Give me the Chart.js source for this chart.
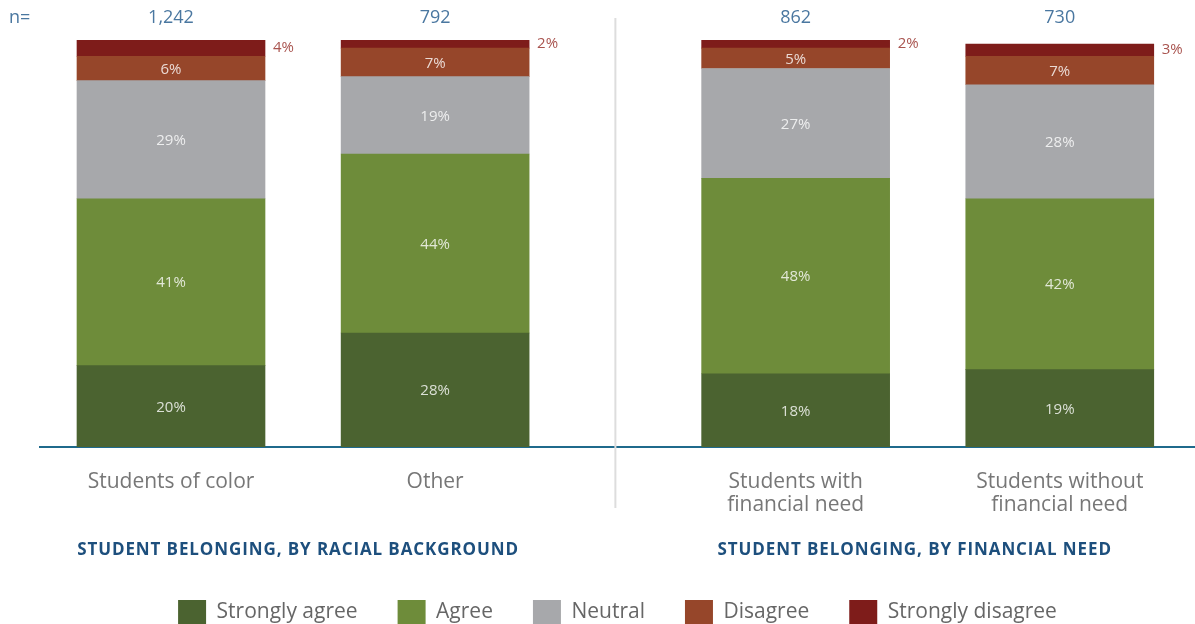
<!DOCTYPE html>
<html>
<head>
<meta charset="utf-8">
<script src="https://cdn.jsdelivr.net/npm/chart.js@4/dist/chart.umd.min.js"></script>
<style>
  html, body { margin: 0; padding: 0; background: #ffffff; }
  #wrap { width: 1195px; height: 624px; position: relative; }
</style>
</head>
<body>
<div id="wrap"><canvas id="c" width="1195" height="624"></canvas></div>
<script>
// Survey responses: "I feel I belong here", by student group (percent)
const categories = [
  ['Students of color'],
  ['Other'],
  ['Students with', 'financial need'],
  ['Students without', 'financial need']
];
const sampleSizes = ['1,242', '792', '862', '730'];
const groupTitles = ['STUDENT BELONGING, BY RACIAL BACKGROUND', 'STUDENT BELONGING, BY FINANCIAL NEED'];

const stronglyAgree    = [20, 28, 18, 19];
const agree            = [41, 44, 48, 42];
const neutral          = [29, 19, 27, 28];
const disagree         = [6, 7, 5, 7];
const stronglyDisagree = [4, 2, 2, 3];

const seriesNames  = ['Strongly agree', 'Agree', 'Neutral', 'Disagree', 'Strongly disagree'];
const seriesColors = ['#4b6330', '#6e8c3a', '#a7a8ab', '#96462a', '#7e1c1a'];
const seriesValues = [stronglyAgree, agree, neutral, disagree, stronglyDisagree];

// The two comparisons sit on one axis, with extra room between the groups
const GROUP_GAP = 0.365;
const xPos = categories.map((_, i) => i + (i >= 2 ? GROUP_GAP : 0));

const FONT = '"Open Sans", "Noto Sans", sans-serif';

const datasets = seriesNames.map((name, s) => ({
  label: name,
  data: seriesValues[s].map((v, i) => ({ x: xPos[i], y: v })),
  backgroundColor: seriesColors[s],
  borderWidth: 0,
  barThickness: 188,
  stack: 'one'
}));

// nudge the legend row down toward the bottom edge
const legendShift = {
  id: 'legendShift',
  afterLayout(chart) {
    if (chart.legend) {
      chart.legend.top += 10;
      chart.legend.bottom += 10;
    }
  }
};

const annotations = {
  id: 'annotations',
  afterDatasetsDraw(chart) {
    const { ctx, scales: { x } } = chart;
    ctx.save();

    // percentage labels on each segment
    ctx.textBaseline = 'middle';
    chart.data.datasets.forEach((ds, s) => {
      const meta = chart.getDatasetMeta(s);
      meta.data.forEach((bar, i) => {
        const v = ds.data[i].y;
        const cy = (bar.y + bar.base) / 2;
        ctx.font = '15px ' + FONT;
        if (s === seriesNames.length - 1) {
          ctx.fillStyle = '#a9544f';
          ctx.textAlign = 'left';
          ctx.fillText(v + '%', bar.x + bar.width / 2 + 8, cy);
        } else {
          ctx.fillStyle = 'rgba(255,255,255,0.8)';
          ctx.textAlign = 'center';
          ctx.fillText(v + '%', bar.x, cy + 1);
        }
      });
    });

    // sample sizes above the bars
    ctx.font = '18px ' + FONT;
    ctx.fillStyle = '#4a77a0';
    ctx.textAlign = 'center';
    xPos.forEach((p, i) => ctx.fillText(sampleSizes[i], x.getPixelForValue(p), 18));
    ctx.textAlign = 'left';
    ctx.fillText('n=', 9, 18);

    // divider between the two comparisons
    const midX = (x.getPixelForValue(xPos[1]) + x.getPixelForValue(xPos[2])) / 2;
    ctx.strokeStyle = '#dddddd';
    ctx.lineWidth = 2;
    ctx.beginPath();
    ctx.moveTo(midX, 18);
    ctx.lineTo(midX, 508);
    ctx.stroke();

    // group titles
    ctx.font = 'bold 17px ' + FONT;
    ctx.letterSpacing = '0.9px';
    ctx.fillStyle = '#1d4f7d';
    ctx.textAlign = 'center';
    const g1 = (x.getPixelForValue(xPos[0]) + x.getPixelForValue(xPos[1])) / 2 - 5;
    const g2 = (x.getPixelForValue(xPos[2]) + x.getPixelForValue(xPos[3])) / 2 - 13;
    ctx.fillText(groupTitles[0], g1, 550);
    ctx.fillText(groupTitles[1], g2, 550);

    ctx.restore();
  }
};

new Chart(document.getElementById('c'), {
  type: 'bar',
  data: { datasets },
  plugins: [legendShift, annotations],
  options: {
    responsive: false,
    animation: false,
    layout: { padding: { left: 40, right: 0, top: 40, bottom: 0 } },
    plugins: {
      tooltip: { enabled: false },
      legend: {
        position: 'bottom',
        labels: {
          boxWidth: 28,
          boxHeight: 24,
          padding: 40,
          color: '#666666',
          font: { family: FONT, size: 21 }
        }
      }
    },
    scales: {
      x: {
        type: 'linear',
        min: -0.496,
        max: xPos[3] + 0.512,
        offset: false,
        grid: { display: false, drawTicks: false },
        border: { display: true, color: '#1f6a8c', width: 2 },
        afterBuildTicks(scale) { scale.ticks = xPos.map(v => ({ value: v })); },
        afterFit(scale) { scale.height = 103; },
        ticks: {
          autoSkip: false,
          maxRotation: 0,
          padding: 23,
          color: '#777777',
          font: { family: FONT, size: 21, lineHeight: 1.1 },
          callback(value) {
            const i = xPos.findIndex(p => Math.abs(p - value) < 1e-6);
            return i >= 0 ? categories[i] : '';
          }
        }
      },
      y: {
        display: false,
        stacked: true,
        min: 0,
        max: 100
      }
    }
  }
});
</script>
</body>
</html>
